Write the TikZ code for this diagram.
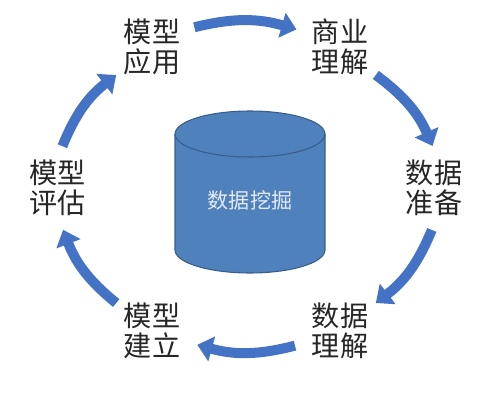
\documentclass[tikz,border=0pt]{standalone}
\usepackage{fontspec}
\newfontfamily\cjk{Noto Sans CJK SC}
\usepackage{tikz}
\usetikzlibrary{arrows.meta}
\usetikzlibrary{shapes.geometric}

\definecolor{flowblue}{RGB}{68,114,196}
\definecolor{drumfill}{RGB}{79,129,189}
\definecolor{drumline}{RGB}{56,93,138}

\tikzset{
  stage/.style={ellipse,inner sep=0pt,outer sep=0pt,minimum width=1.92cm,minimum height=1.68cm,
    align=center,text=black!85,font=\cjk\fontsize{16}{17}\selectfont},
  flow/.style={draw=flowblue,line width=0.2cm,-{Triangle[width=0.5cm,length=0.3cm]}}
}

\begin{document}
\begin{tikzpicture}[x=0.02cm,y=-0.02cm]
\useasboundingbox (0,0) rectangle (500,412);
% the drum in the middle
\fill[drumfill] (175,134) -- (175,250) arc[start angle=180,end angle=360,x radius=1.5cm,y radius=0.46cm] -- (325,134) arc[start angle=0,end angle=180,x radius=1.5cm,y radius=0.46cm] -- cycle;
\draw[drumline,line width=0.6pt] (175,134) -- (175,250) arc[start angle=180,end angle=360,x radius=1.5cm,y radius=0.46cm] -- (325,134);
\draw[drumline,line width=0.6pt] (250,134) ellipse[x radius=1.5cm,y radius=0.46cm];
\node[font=\cjk\fontsize{12}{14}\selectfont,text=white!85!flowblue] (core) at (250,200) {数据挖掘};
% the six stages
\node[stage] (app) at (152,47) {模型\\应用};
\node[stage] (biz) at (340,47) {商业\\理解};
\node[stage] (prep) at (434,188) {数据\\准备};
\node[stage] (und) at (340,331) {数据\\理解};
\node[stage] (build) at (152,331) {模型\\建立};
\node[stage] (eval) at (58,188) {模型\\评估};
% the cycle
\draw[flow] (app.25) to[bend left=15] (biz.158);
\draw[flow] (biz.-38) to[bend left=15] (prep.92);
\draw[flow] (prep.-93) to[bend left=15] (und.38);
\draw[flow] (und.-162) to[bend left=15] (build.-17);
\draw[flow] (build.142) to[bend left=15] (eval.-83);
\draw[flow] (eval.84) to[bend left=15] (app.-142);
\end{tikzpicture}
\end{document}
